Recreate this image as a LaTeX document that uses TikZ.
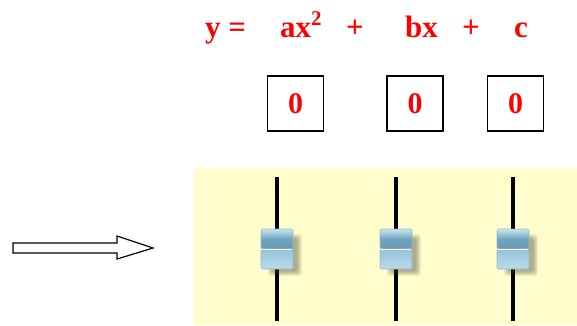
\documentclass[tikz,border=0pt]{standalone}
\usepackage{fontspec}
\setmainfont{Liberation Serif}
\definecolor{eqred}{RGB}{255,0,0}
\definecolor{panel}{RGB}{255,253,204}
\definecolor{knobdark}{RGB}{105,155,182}
\definecolor{knobmid}{RGB}{150,195,218}
\definecolor{knoblight}{RGB}{200,230,242}
\tikzset{
  eqtext/.style={text=eqred, font=\fontsize{31}{31}\selectfont\bfseries, inner sep=0pt, anchor=base west},
  valbox/.style={draw=black, line width=1.8pt, minimum width=56pt, minimum height=55pt, inner sep=0pt,
    text=eqred, font=\fontsize{30}{30}\selectfont\bfseries},
  track/.style={line width=4pt, black},
  knobtop/.style={minimum width=32pt, minimum height=20pt, inner sep=0pt, rounded corners=1.5pt,
    top color=knoblight, bottom color=knobdark, middle color=knobdark!80!knobmid, draw=knobdark!70!white, line width=0.6pt},
  knobbot/.style={minimum width=32pt, minimum height=20pt, inner sep=0pt, rounded corners=1.5pt,
    top color=knobmid, bottom color=knoblight!70!knobmid, draw=knobdark!70!white, line width=0.6pt},
  shadowlayer/.style={fill=black!70!olive, opacity=0.07},
  hollowarrow/.style={draw=black, line width=1.2pt, fill=white}
}
\begin{document}
\begin{tikzpicture}[x=1pt,y=-1pt]
\useasboundingbox (0,0) rectangle (577,325);
% equation
\node[eqtext] (ey) at (205,37) {y =};
\node[eqtext] (ea) at (280,37) {ax\raisebox{0.36em}{\fontsize{21}{21}\selectfont 2}};
\node[eqtext] (ep1) at (346,37) {+};
\node[eqtext] (eb) at (405,37) {bx};
\node[eqtext] (ep2) at (462,37) {+};
\node[eqtext] (ec) at (514,37) {c};
% value boxes
\node[valbox] (boxa) at (295.5,103.5) {0};
\node[valbox] (boxb) at (415,103.5) {0};
\node[valbox] (boxc) at (515.5,103.5) {0};
% panel
\fill[panel] (194,168) rectangle (577,325);
% sliders
\foreach \n/\x in {a/277,b/396,c/513}{
  \draw[track] (\x,177) -- (\x,321);
  \foreach \s in {0,1,2,3,4,5,6}{
    \fill[shadowlayer, rounded corners=3pt] (\x-16+7+\s*0.8,229+5+\s*0.8) rectangle (\x+16+9-\s*0.8,269+7-\s*0.8);
  }
  \node[knobtop] (knobtop\n) at (\x,239) {};
  \node[knobbot] (knobbot\n) at (\x,259) {};
  \draw[white, line width=1.2pt] ([xshift=1pt]knobtop\n.south west) -- ([xshift=-1pt]knobtop\n.south east);
}
% hollow arrow
\draw[hollowarrow] (13,243) -- (117,243) -- (117,236) -- (153,248) -- (117,259) -- (117,253) -- (13,253) -- cycle;
\end{tikzpicture}
\end{document}
